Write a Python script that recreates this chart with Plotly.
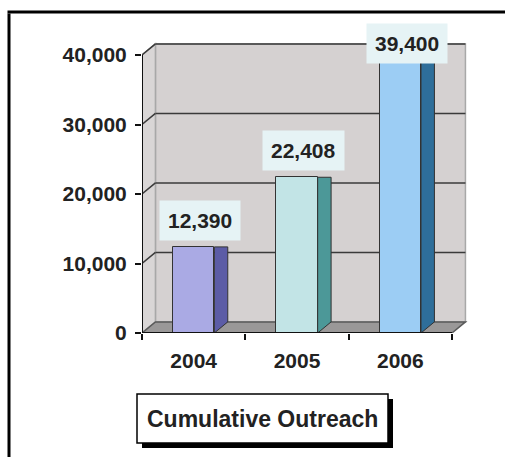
import plotly.graph_objects as go

# ---- data ----
years = ["2004", "2005", "2006"]
values = [12390, 22408, 39400]
y_ticks = [0, 10000, 20000, 30000, 40000]
legend_label = "Cumulative Outreach"

front_colors = ["#AAAAE4", "#C2E4E6", "#9CCDF4"]
side_colors = ["#5C5CA6", "#4C9898", "#2E6E9A"]

# ---- geometry (pixel layout of the plot area) ----
W, H = 507, 459
L_PX, R_PX, T_PX, B_PX = 142, 475, 40, 333
X0, X_END = -0.5, 2.5
PX_PER_X = (452 - 142) / 3.0
Y_PER_PX = 40000 / (333 - 55)
YMAX = (B_PX - T_PX) * Y_PER_PX
DX = 0.13           # 3-D depth along x (data units)
DY = 1600           # 3-D depth along y (data units)
BAR_W = 0.4
YTOP = 40000

def px(xp):
    return xp / W

def py(yp):
    return 1 - yp / H

def poly(pts):
    return "M " + " L ".join(f"{a},{b}" for a, b in pts) + " Z"

shapes = []
# back wall
shapes.append(dict(type="path", xref="x", yref="y", layer="below",
                   path=poly([(X0 + DX, DY), (X_END + DX, DY), (X_END + DX, YTOP + DY), (X0 + DX, YTOP + DY)]),
                   fillcolor="#D5D1D1", line=dict(color="#A8A8A8", width=1.5)))
# left wall
shapes.append(dict(type="path", xref="x", yref="y", layer="below",
                   path=poly([(X0, 0), (X0 + DX, DY), (X0 + DX, YTOP + DY), (X0, YTOP)]),
                   fillcolor="#D9D6D6", line=dict(color="#A8A8A8", width=1.5)))
# gridlines
for t in y_ticks[1:]:
    shapes.append(dict(type="line", xref="x", yref="y", layer="below",
                       x0=X0 + DX, x1=X_END + DX, y0=t + DY, y1=t + DY,
                       line=dict(color="#3A3A3A", width=1.5)))
    shapes.append(dict(type="line", xref="x", yref="y", layer="below",
                       x0=X0, x1=X0 + DX, y0=t, y1=t + DY,
                       line=dict(color="#3A3A3A", width=1.5)))
# floor
shapes.append(dict(type="path", xref="x", yref="y", layer="below",
                   path=poly([(X0, 0), (X_END, 0), (X_END + DX, DY), (X0 + DX, DY)]),
                   fillcolor="#9A9898", line=dict(color="#5A5A5A", width=1.5)))

fig = go.Figure()

xs = list(range(len(years)))
fig.add_trace(go.Bar(x=xs, y=values, width=BAR_W,
                     marker=dict(color=front_colors, line=dict(color="#333333", width=1)),
                     hoverinfo="skip", showlegend=False))

for i, v in enumerate(values):
    xr = xs[i] + BAR_W / 2
    fig.add_trace(go.Scatter(x=[xr, xr + DX, xr + DX, xr, xr],
                             y=[0, DY, v, v, 0],
                             fill="toself", fillcolor=side_colors[i], mode="lines",
                             line=dict(color="#333333", width=1),
                             hoverinfo="skip", showlegend=False))

# front axes lines
fig.add_trace(go.Scatter(x=[X0, X0, None, X0, X_END], y=[0, YTOP, None, 0, 0], mode="lines",
                         line=dict(color="#111111", width=2), hoverinfo="skip", showlegend=False))

annotations = []
for i, v in enumerate(values):
    annotations.append(dict(x=xs[i] + DX / 2, y=min(v + 3800, 41700), xref="x", yref="y",
                            text=f"{v:,}", showarrow=False, xanchor="center", yanchor="middle",
                            bgcolor="#E6F3F5", borderpad=8,
                            font=dict(family="Liberation Sans, Arial", size=21, color="#222222", weight="bold")))

# legend-like box with shadow
shapes.append(dict(type="rect", xref="paper", yref="paper", x0=px(142), x1=px(393), y0=py(448), y1=py(399),
                   fillcolor="#000000", line=dict(width=0), layer="above"))
shapes.append(dict(type="rect", xref="paper", yref="paper", x0=px(137), x1=px(388), y0=py(443), y1=py(394),
                   fillcolor="#FFFFFF", line=dict(color="#000000", width=1.5), layer="above"))
annotations.append(dict(x=px(262.5), y=py(419), xref="paper", yref="paper", text=legend_label,
                        showarrow=False, xanchor="center", yanchor="middle",
                        font=dict(family="Liberation Sans, Arial", size=23, color="#222222", weight="bold")))
# outer frame: left and top edges as thin filled bands (inside the page)
shapes.append(dict(type="rect", xref="paper", yref="paper", x0=px(7.5), x1=px(10.5), y0=py(457), y1=py(13.5),
                   fillcolor="#000000", line=dict(width=0), layer="above"))
shapes.append(dict(type="rect", xref="paper", yref="paper", x0=px(7.5), x1=px(505), y0=py(13.5), y1=py(10.5),
                   fillcolor="#000000", line=dict(width=0), layer="above"))

tick_font = dict(family="Liberation Sans, Arial", size=21, color="#222222", weight="bold")
fig.update_layout(
    width=W, height=H,
    margin=dict(l=0, r=0, t=0, b=0, autoexpand=False),
    paper_bgcolor="white", plot_bgcolor="white",
    showlegend=False, bargap=0,
    shapes=shapes, annotations=annotations,
    xaxis=dict(domain=[L_PX / W, R_PX / W],
               range=[X0, X0 + (R_PX - L_PX) / PX_PER_X],
               tickmode="array", tickvals=xs, ticktext=years,
               ticks="outside", ticklen=9, tickcolor="rgba(0,0,0,0)",
               minor=dict(tickmode="array", tickvals=[X0, 0.5, 1.5, X_END], ticks="outside",
                          ticklen=6, tickwidth=2, tickcolor="#111111"),
               showgrid=False, zeroline=False, showline=False, tickfont=tick_font,
               fixedrange=True),
    yaxis=dict(domain=[1 - B_PX / H, 1 - T_PX / H],
               range=[0, YMAX], tickmode="array", tickvals=y_ticks, tickformat=",d",
               ticks="outside", ticklen=6, tickwidth=2, tickcolor="#111111",
               ticklabelstandoff=4,
               showgrid=False, zeroline=False, showline=False, tickfont=tick_font,
               fixedrange=True),
)

fig.write_html("out.html", config={"displayModeBar": False})
